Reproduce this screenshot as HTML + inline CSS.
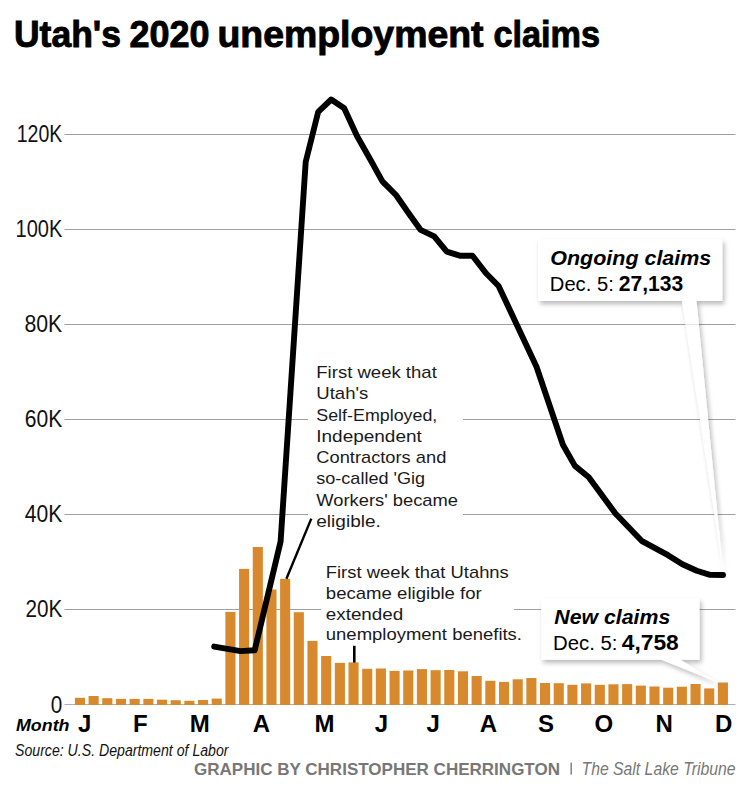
<!DOCTYPE html>
<html><head><meta charset="utf-8">
<style>
html,body{margin:0;padding:0;background:#fff;}
body{width:750px;height:795px;overflow:hidden;}
svg{display:block;font-family:"Liberation Sans", sans-serif;}
</style></head>
<body>
<svg width="750" height="795" viewBox="0 0 750 795">
<defs>
<filter id="sh" x="-20%" y="-20%" width="150%" height="160%">
<feGaussianBlur in="SourceAlpha" stdDeviation="2.6"/>
<feOffset dx="2" dy="3" result="b"/>
<feComponentTransfer><feFuncA type="linear" slope="0.28"/></feComponentTransfer>
<feMerge><feMergeNode/><feMergeNode in="SourceGraphic"/></feMerge>
</filter>
</defs>
<rect width="750" height="795" fill="#fff"/>
<g font-size="36" font-weight="bold" fill="#000" stroke="#000" stroke-width="0.9">
<text x="14" y="46.8" textLength="107" lengthAdjust="spacingAndGlyphs">Utah's</text>
<text x="129.5" y="46.8" textLength="80" lengthAdjust="spacingAndGlyphs">2020</text>
<text x="217.5" y="46.8" textLength="266" lengthAdjust="spacingAndGlyphs">unemployment</text>
<text x="493.5" y="46.8" textLength="106.5" lengthAdjust="spacingAndGlyphs">claims</text>
</g>
<g stroke="#a0a0a0" stroke-width="1">
<line x1="64.5" x2="735.5" y1="609.5" y2="609.5"/>
<line x1="64.5" x2="735.5" y1="514.5" y2="514.5"/>
<line x1="64.5" x2="735.5" y1="419.5" y2="419.5"/>
<line x1="64.5" x2="735.5" y1="324.5" y2="324.5"/>
<line x1="64.5" x2="735.5" y1="229.5" y2="229.5"/>
<line x1="64.5" x2="735.5" y1="134.5" y2="134.5"/>
</g>
<line x1="64.5" x2="735.5" y1="704.5" y2="704.5" stroke="#a9b1b3" stroke-width="1.2"/>
<g font-size="23" fill="#111">
<text x="50.8" y="713.0" textLength="11.5" lengthAdjust="spacingAndGlyphs">0</text>
<text x="25.5" y="617.2" textLength="36.8" lengthAdjust="spacingAndGlyphs">20K</text>
<text x="24.8" y="522.0" textLength="37.5" lengthAdjust="spacingAndGlyphs">40K</text>
<text x="24.8" y="426.9" textLength="37.5" lengthAdjust="spacingAndGlyphs">60K</text>
<text x="24.5" y="331.8" textLength="37.8" lengthAdjust="spacingAndGlyphs">80K</text>
<text x="15.5" y="236.6" textLength="46.8" lengthAdjust="spacingAndGlyphs">100K</text>
<text x="16.7" y="141.5" textLength="45.6" lengthAdjust="spacingAndGlyphs">120K</text>
</g>
<!-- annotation boxes -->
<rect x="308" y="360" width="155" height="172" fill="#fff"/>
<rect x="321" y="560" width="193" height="86" fill="#fff"/>
<g fill="#d8892e">
<rect x="74.90" y="697.8" width="10.1" height="7.2"/>
<rect x="88.58" y="696.0" width="10.1" height="9.0"/>
<rect x="102.26" y="698.2" width="10.1" height="6.8"/>
<rect x="115.94" y="698.9" width="10.1" height="6.1"/>
<rect x="129.62" y="698.9" width="10.1" height="6.1"/>
<rect x="143.30" y="698.9" width="10.1" height="6.1"/>
<rect x="156.98" y="699.7" width="10.1" height="5.3"/>
<rect x="170.66" y="700.2" width="10.1" height="4.8"/>
<rect x="184.34" y="700.8" width="10.1" height="4.2"/>
<rect x="198.02" y="700.0" width="10.1" height="5.0"/>
<rect x="211.70" y="698.6" width="10.1" height="6.4"/>
<rect x="225.38" y="611.9" width="10.1" height="93.1"/>
<rect x="239.06" y="568.9" width="10.1" height="136.1"/>
<rect x="252.74" y="547.0" width="10.1" height="158.0"/>
<rect x="266.42" y="589.5" width="10.1" height="115.5"/>
<rect x="280.10" y="578.8" width="10.1" height="126.2"/>
<rect x="293.78" y="612.2" width="10.1" height="92.8"/>
<rect x="307.46" y="640.9" width="10.1" height="64.1"/>
<rect x="321.14" y="656.0" width="10.1" height="49.0"/>
<rect x="334.82" y="662.9" width="10.1" height="42.1"/>
<rect x="348.50" y="662.4" width="10.1" height="42.6"/>
<rect x="362.18" y="668.8" width="10.1" height="36.2"/>
<rect x="375.86" y="668.5" width="10.1" height="36.5"/>
<rect x="389.54" y="670.9" width="10.1" height="34.1"/>
<rect x="403.22" y="670.5" width="10.1" height="34.5"/>
<rect x="416.90" y="669.1" width="10.1" height="35.9"/>
<rect x="430.58" y="670.2" width="10.1" height="34.8"/>
<rect x="444.26" y="670.0" width="10.1" height="35.0"/>
<rect x="457.94" y="671.3" width="10.1" height="33.7"/>
<rect x="471.62" y="676.0" width="10.1" height="29.0"/>
<rect x="485.30" y="680.8" width="10.1" height="24.2"/>
<rect x="498.98" y="681.9" width="10.1" height="23.1"/>
<rect x="512.66" y="679.3" width="10.1" height="25.7"/>
<rect x="526.34" y="678.0" width="10.1" height="27.0"/>
<rect x="540.02" y="683.0" width="10.1" height="22.0"/>
<rect x="553.70" y="683.2" width="10.1" height="21.8"/>
<rect x="567.38" y="684.8" width="10.1" height="20.2"/>
<rect x="581.06" y="683.4" width="10.1" height="21.6"/>
<rect x="594.74" y="684.8" width="10.1" height="20.2"/>
<rect x="608.42" y="684.3" width="10.1" height="20.7"/>
<rect x="622.10" y="684.1" width="10.1" height="20.9"/>
<rect x="635.78" y="685.6" width="10.1" height="19.4"/>
<rect x="649.46" y="686.5" width="10.1" height="18.5"/>
<rect x="663.14" y="687.7" width="10.1" height="17.3"/>
<rect x="676.82" y="686.7" width="10.1" height="18.3"/>
<rect x="690.50" y="684.0" width="10.1" height="21.0"/>
<rect x="704.18" y="688.4" width="10.1" height="16.6"/>
<rect x="717.86" y="682.5" width="10.1" height="22.5"/>
</g>
<polyline points="214.2,646.6 240.6,651.1 254.7,650.2 280.6,541.5 305.7,161.9 318.2,111.9 331.2,99.5 344.2,108.2 357,136 369.6,158.3 382.4,181.4 396,195 409,213.7 420.5,229.8 434.2,236.3 446.8,251.7 460.5,255.8 472.5,255.8 485.8,273 498.6,286 536.5,366.7 562.9,444.7 574.9,465.9 588.8,477.2 615.2,513.2 641.6,540.8 668,555.2 682.4,564.3 696.8,570.8 710,574.9 723,575" fill="none" stroke="#000" stroke-width="5.9" stroke-linejoin="round" stroke-linecap="round"/>
<line x1="311.3" y1="518.6" x2="286.4" y2="578.8" stroke="#000" stroke-width="2.4"/>
<line x1="354.3" y1="645.8" x2="354.3" y2="662.6" stroke="#000" stroke-width="2.6"/>
<g font-size="17" fill="#1a1a1a">
<text x="316.3" y="378.0" textLength="120.5" lengthAdjust="spacingAndGlyphs">First week that</text>
<text x="316.3" y="399.3" textLength="52" lengthAdjust="spacingAndGlyphs">Utah's</text>
<text x="316.3" y="420.5" textLength="121" lengthAdjust="spacingAndGlyphs">Self-Employed,</text>
<text x="316.3" y="441.8" textLength="105.5" lengthAdjust="spacingAndGlyphs">Independent</text>
<text x="316.3" y="463.1" textLength="130" lengthAdjust="spacingAndGlyphs">Contractors and</text>
<text x="316.3" y="484.4" textLength="108.7" lengthAdjust="spacingAndGlyphs">so-called 'Gig</text>
<text x="316.3" y="505.6" textLength="141.7" lengthAdjust="spacingAndGlyphs">Workers' became</text>
<text x="316.3" y="526.9" textLength="64.5" lengthAdjust="spacingAndGlyphs">eligible.</text>
<text x="325.8" y="578.0" textLength="183" lengthAdjust="spacingAndGlyphs">First week that Utahns</text>
<text x="325.8" y="598.8" textLength="156" lengthAdjust="spacingAndGlyphs">became eligible for</text>
<text x="325.8" y="619.6" textLength="77.4" lengthAdjust="spacingAndGlyphs">extended</text>
<text x="325.8" y="640.4" textLength="196.2" lengthAdjust="spacingAndGlyphs">unemployment benefits.</text>
</g>
<!-- callout 1 -->
<g filter="url(#sh)">
<path d="M538,239.3 H722.3 V301 H696.5 L723,571 L682,301 H538 Z" fill="#fff"/>
</g>
<line x1="685.4" x2="698.6" y1="324.5" y2="324.5" stroke="#e6e6e6" stroke-width="1"/>
<text x="550.3" y="265.2" font-size="21" font-weight="bold" font-style="italic" fill="#000" textLength="161" lengthAdjust="spacingAndGlyphs">Ongoing claims</text>
<text x="549.8" y="291" font-size="20" fill="#000" textLength="64" lengthAdjust="spacingAndGlyphs">Dec. 5:</text>
<text x="618.8" y="291" font-size="22" font-weight="bold" fill="#000" textLength="64.5" lengthAdjust="spacingAndGlyphs">27,133</text>
<!-- callout 2 -->
<g filter="url(#sh)">
<path d="M541.2,598.4 H699.5 V659.7 H680.3 L718,682.5 L661.6,659.7 H541.2 Z" fill="#fff"/>
</g>
<text x="554.3" y="623.9" font-size="21" font-weight="bold" font-style="italic" fill="#000" textLength="116" lengthAdjust="spacingAndGlyphs">New claims</text>
<text x="553" y="650.4" font-size="20" fill="#000" textLength="64.5" lengthAdjust="spacingAndGlyphs">Dec. 5:</text>
<text x="621.8" y="650.4" font-size="22" font-weight="bold" fill="#000" textLength="57" lengthAdjust="spacingAndGlyphs">4,758</text>
<!-- axis labels -->
<text x="16" y="731.3" font-size="17" font-weight="bold" font-style="italic" fill="#000" textLength="53.5" lengthAdjust="spacingAndGlyphs">Month</text>
<g font-size="24" font-weight="bold" fill="#000">
<text x="84.8" y="731.5" text-anchor="middle">J</text>
<text x="140.4" y="731.5" text-anchor="middle">F</text>
<text x="199.8" y="731.5" text-anchor="middle">M</text>
<text x="261.5" y="731.5" text-anchor="middle">A</text>
<text x="324.6" y="731.5" text-anchor="middle">M</text>
<text x="381.5" y="731.5" text-anchor="middle">J</text>
<text x="433.1" y="731.5" text-anchor="middle">J</text>
<text x="488.4" y="731.5" text-anchor="middle">A</text>
<text x="545.9" y="731.5" text-anchor="middle">S</text>
<text x="603.9" y="731.5" text-anchor="middle">O</text>
<text x="664.2" y="731.5" text-anchor="middle">N</text>
<text x="723.7" y="731.5" text-anchor="middle">D</text>
</g>
<text x="15" y="755.6" font-size="16" font-style="italic" fill="#111" textLength="213.5" lengthAdjust="spacingAndGlyphs">Source: U.S. Department of Labor</text>
<text x="194" y="775" font-size="17.3" font-weight="bold" fill="#777" textLength="366" lengthAdjust="spacingAndGlyphs">GRAPHIC BY CHRISTOPHER CHERRINGTON</text>
<rect x="570.4" y="762.6" width="1.6" height="12" fill="#888"/>
<text x="581.5" y="774.6" font-size="17.5" font-style="italic" fill="#777" textLength="154" lengthAdjust="spacingAndGlyphs">The Salt Lake Tribune</text>
</svg>
</body></html>
